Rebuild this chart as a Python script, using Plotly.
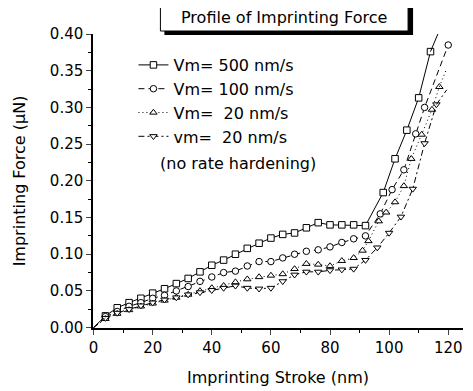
import plotly.graph_objects as go

# ---------------- data ----------------
# Vm = 500 nm/s (squares, solid)
x_500 = [0, 4, 8, 12, 16, 20, 24, 28, 32, 36, 40, 44, 48, 52, 56, 60, 64, 68, 72, 76,
         80, 84, 88, 92, 98, 102, 106, 110, 114, 116.5]
y_500 = [0.000, 0.016, 0.027, 0.034, 0.040, 0.047, 0.053, 0.060, 0.067, 0.076,
         0.085, 0.092, 0.100, 0.108, 0.115, 0.122, 0.127, 0.129, 0.136, 0.143,
         0.140, 0.140, 0.140, 0.139, 0.184, 0.230, 0.269, 0.313, 0.376, 0.400]

# Vm = 100 nm/s (circles, dashed)
x_100 = [0, 4, 8, 12, 16, 20, 24, 28, 32, 36, 40, 44, 48, 52, 56, 60, 64, 68, 72, 76,
         80, 84, 88, 92, 97, 101, 105, 109, 112, 120]
y_100 = [0.000, 0.015, 0.022, 0.029, 0.034, 0.040, 0.044, 0.050, 0.056, 0.063,
         0.069, 0.075, 0.077, 0.084, 0.090, 0.090, 0.095, 0.100, 0.104, 0.106,
         0.110, 0.116, 0.121, 0.125, 0.155, 0.188, 0.215, 0.264, 0.300, 0.385]

# Vm = 20 nm/s (up triangles, dotted)
x_20 = [0, 4, 8, 12, 16, 20, 24, 28, 32, 36, 40, 44, 48, 52, 56, 60, 64, 68, 72, 76,
        80, 84, 88, 91, 93, 96.5, 99, 102, 105, 107.5, 111, 114.5, 117, 119.5]
y_20 = [0.000, 0.012, 0.019, 0.024, 0.029, 0.033, 0.037, 0.041, 0.045, 0.050,
        0.054, 0.057, 0.062, 0.066, 0.069, 0.071, 0.073, 0.080, 0.087, 0.086,
        0.084, 0.091, 0.095, 0.105, 0.118, 0.145, 0.157, 0.171, 0.193, 0.230,
        0.263, 0.297, 0.328, 0.353]

# vm = 20 nm/s, no rate hardening (down triangles, dash-dot)
x_nh = [0, 4, 8, 12, 16, 20, 24, 28, 32, 36, 40, 44, 48, 52, 56, 60, 64, 68, 72, 76,
        80, 84, 88, 92, 96, 100, 104, 108, 112, 116, 119.5]
y_nh = [0.000, 0.013, 0.020, 0.025, 0.030, 0.034, 0.038, 0.041, 0.045, 0.048,
        0.051, 0.054, 0.057, 0.054, 0.053, 0.054, 0.063, 0.072, 0.076, 0.076,
        0.078, 0.079, 0.080, 0.092, 0.109, 0.129, 0.151, 0.189, 0.251, 0.304, 0.324]

names = ["Vm= 500 nm/s", "Vm= 100 nm/s", "Vm=  20 nm/s", "vm=  20 nm/s"]
note_text = "(no rate hardening)"
title_text = "Profile of Imprinting Force"
x_title = "Imprinting Stroke (nm)"
y_title = "Imprinting Force (\u03bcN)"
x_ticks = [0, 20, 40, 60, 80, 100, 120]
y_ticks = [0.00, 0.05, 0.10, 0.15, 0.20, 0.25, 0.30, 0.35, 0.40]

# ---------------- styles ----------------
FONT = "DejaVu Sans"
series = [
    (x_500, y_500, names[0], "square", "solid", True),
    (x_100, y_100, names[1], "circle", "6px,4px", False),
    (x_20, y_20, names[2], "triangle-up", "1px,3px", True),
    (x_nh, y_nh, names[3], "triangle-down", "6px,3px,2px,3px", True),
]

fig = go.Figure()
for xs, ys, name, sym, dash, end_unmarked in series:
    stop = len(xs) - 1 if end_unmarked else len(xs)
    line = dict(color="black", width=1, dash=dash)
    # marked part
    fig.add_trace(go.Scatter(
        x=xs[1:stop], y=ys[1:stop], name=name, mode="lines+markers",
        line=line,
        marker=dict(symbol=sym, size=6.5, color="white",
                    line=dict(color="black", width=1)),
    ))
    # unmarked start segment
    fig.add_trace(go.Scatter(x=xs[0:2], y=ys[0:2], mode="lines", line=line,
                             showlegend=False, hoverinfo="skip"))
    if end_unmarked:
        fig.add_trace(go.Scatter(x=xs[-2:], y=ys[-2:], mode="lines", line=line,
                                 showlegend=False, hoverinfo="skip"))

# The page body has an 8px margin, so the figure is drawn 8px in from the
# window's top-left corner; window coordinates are converted accordingly.
OFF = 8
WIN_W, WIN_H = 473, 391
W, H = WIN_W - OFF, WIN_H - OFF
# plot area in window pixels
AX_L, AX_R, AX_T, AX_B = 92.5, 463, 34, 328
L, R, T, B = AX_L - OFF, WIN_W - AX_R, AX_T - OFF, WIN_H - AX_B
pw, ph = AX_R - AX_L, AX_B - AX_T


def px(xw):
    return (xw - AX_L) / pw


def py(yw):
    return (AX_B - yw) / ph


fig.update_layout(
    width=W, height=H,
    margin=dict(l=L, r=R, t=T, b=B, pad=0, autoexpand=False),
    paper_bgcolor="white", plot_bgcolor="white",
    font=dict(family=FONT, color="black", size=15),
    showlegend=True,
    legend=dict(x=px(133), y=py(48), xanchor="left", yanchor="top",
                bgcolor="rgba(0,0,0,0)", borderwidth=0,
                font=dict(family=FONT, size=16), tracegroupgap=0),
    xaxis=dict(range=[-0.2, 125], tickvals=x_ticks, ticks="outside", ticklen=5,
               tickwidth=1.2, showline=True, linecolor="black", linewidth=1.5,
               showgrid=False, zeroline=False, tickfont=dict(size=15),
               automargin=False,
               minor=dict(dtick=10, tick0=0, ticks="outside", ticklen=3,
                          tickcolor="black", tickwidth=1),
               title=dict(text=x_title, font=dict(size=16), standoff=16)),
    yaxis=dict(range=[-0.0005, 0.40], tickvals=y_ticks, tickformat=".2f",
               ticks="outside", ticklen=5, tickwidth=1.2, showline=True,
               linecolor="black", linewidth=1.5, showgrid=False, zeroline=False,
               tickfont=dict(size=15), automargin=False,
               minor=dict(dtick=0.025, tick0=0, ticks="outside", ticklen=3,
                          tickcolor="black", tickwidth=1),
               title=dict(text=y_title, font=dict(size=16), standoff=20)),
    shapes=[
        dict(type="rect", xref="paper", yref="paper",
             x0=px(164), x1=px(413), y0=py(35), y1=py(8),
             fillcolor="black", line=dict(width=0), layer="above"),
        dict(type="rect", xref="paper", yref="paper",
             x0=px(160), x1=px(408), y0=py(31), y1=py(4),
             fillcolor="white", line=dict(color="black", width=1), layer="above"),
    ],
    annotations=[
        dict(text=title_text, xref="paper", yref="paper", x=px(284), y=py(18),
             xanchor="center", yanchor="middle", showarrow=False,
             font=dict(family=FONT, size=16)),
        dict(text=note_text, xref="paper", yref="paper", x=px(158), y=py(163),
             xanchor="left", yanchor="middle", showarrow=False,
             font=dict(family=FONT, size=16)),
    ],
)

fig.write_html("out.html")
